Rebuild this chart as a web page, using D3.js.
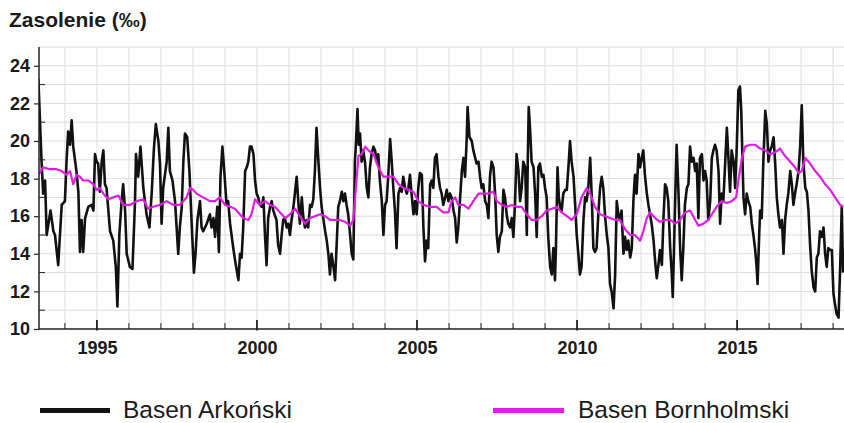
<!DOCTYPE html>
<html>
<head>
<meta charset="utf-8">
<script src="https://cdn.jsdelivr.net/npm/d3@7"></script>
<style>
  html, body { margin: 0; padding: 0; background: #fff; }
  svg { display: block; }
  text { font-family: "Liberation Sans", Arial, sans-serif; }
</style>
</head>
<body>
<svg id="chart" width="844" height="423"></svg>
<script>
// ---------- data ----------
const titleText = "Zasolenie (‰)";
const seriesNames = ["Basen Arkoński", "Basen Bornholmski"];
const yTicks = [10, 12, 14, 16, 18, 20, 22, 24];
const xTickYears = [1995, 2000, 2005, 2010, 2015];

const arkonaYears = [
1993.17,1993.27,1993.32,1993.38,1993.43,1993.55,1993.64,1993.69,1993.79,1993.90,
1994.00,1994.05,1994.10,1994.16,1994.21,1994.26,1994.36,1994.42,1994.47,1994.52,
1994.57,1994.63,1994.73,1994.83,1994.89,1994.94,1994.99,1995.04,1995.09,1995.15,
1995.20,1995.25,1995.30,1995.41,1995.51,1995.59,1995.64,1995.70,1995.77,1995.82,
1995.88,1995.93,1996.03,1996.11,1996.19,1996.22,1996.29,1996.36,1996.45,1996.55,
1996.64,1996.71,1996.78,1996.84,1996.92,1996.97,1997.02,1997.07,1997.18,1997.23,
1997.28,1997.36,1997.44,1997.54,1997.59,1997.65,1997.70,1997.75,1997.82,1997.89,
1997.96,1998.03,1998.08,1998.14,1998.22,1998.27,1998.32,1998.43,1998.53,1998.58,
1998.64,1998.69,1998.76,1998.81,1998.86,1998.92,1998.97,1999.05,1999.10,1999.16,
1999.26,1999.32,1999.42,1999.47,1999.52,1999.57,1999.63,1999.68,1999.73,1999.78,
1999.83,1999.89,1999.94,1999.99,2000.04,2000.09,2000.15,2000.20,2000.25,2000.30,
2000.35,2000.41,2000.46,2000.51,2000.61,2000.66,2000.72,2000.77,2000.82,2000.87,
2000.93,2000.98,2001.03,2001.08,2001.14,2001.19,2001.24,2001.29,2001.34,2001.40,
2001.45,2001.50,2001.55,2001.60,2001.66,2001.71,2001.76,2001.81,2001.86,2001.92,
2001.97,2002.02,2002.07,2002.13,2002.18,2002.23,2002.28,2002.33,2002.39,2002.44,
2002.49,2002.54,2002.59,2002.65,2002.70,2002.75,2002.80,2002.85,2002.91,2002.96,
2003.01,2003.06,2003.09,2003.14,2003.18,2003.22,2003.27,2003.32,2003.38,2003.43,
2003.48,2003.53,2003.58,2003.64,2003.69,2003.74,2003.79,2003.84,2003.90,2003.95,
2004.00,2004.05,2004.10,2004.16,2004.21,2004.26,2004.31,2004.36,2004.42,2004.47,
2004.52,2004.57,2004.63,2004.68,2004.73,2004.78,2004.83,2004.89,2004.94,2004.99,
2005.04,2005.09,2005.15,2005.20,2005.25,2005.30,2005.35,2005.41,2005.46,2005.51,
2005.56,2005.61,2005.67,2005.72,2005.77,2005.82,2005.88,2005.93,2005.98,2006.03,
2006.08,2006.14,2006.19,2006.24,2006.29,2006.34,2006.40,2006.45,2006.50,2006.55,
2006.58,2006.64,2006.71,2006.76,2006.86,2006.92,2006.97,2007.02,2007.07,2007.13,
2007.18,2007.23,2007.28,2007.33,2007.39,2007.44,2007.49,2007.54,2007.59,2007.65,
2007.70,2007.75,2007.80,2007.85,2007.91,2007.96,2008.01,2008.06,2008.11,2008.17,
2008.22,2008.27,2008.32,2008.38,2008.43,2008.46,2008.49,2008.53,2008.58,2008.64,
2008.69,2008.74,2008.79,2008.84,2008.90,2008.95,2009.00,2009.05,2009.10,2009.16,
2009.21,2009.26,2009.31,2009.34,2009.39,2009.43,2009.47,2009.52,2009.57,2009.63,
2009.68,2009.73,2009.78,2009.83,2009.89,2009.94,2009.99,2010.04,2010.09,2010.14,
2010.20,2010.25,2010.30,2010.35,2010.41,2010.46,2010.51,2010.56,2010.61,2010.67,
2010.72,2010.77,2010.82,2010.88,2010.93,2010.98,2011.03,2011.08,2011.14,2011.19,
2011.24,2011.29,2011.34,2011.39,2011.45,2011.50,2011.55,2011.60,2011.66,2011.71,
2011.76,2011.81,2011.86,2011.92,2011.97,2012.02,2012.07,2012.12,2012.18,2012.23,
2012.28,2012.33,2012.39,2012.44,2012.49,2012.54,2012.59,2012.65,2012.70,2012.75,
2012.80,2012.85,2012.91,2012.96,2012.99,2013.03,2013.07,2013.11,2013.17,2013.22,
2013.27,2013.32,2013.37,2013.43,2013.48,2013.53,2013.58,2013.64,2013.69,2013.74,
2013.79,2013.84,2013.90,2013.95,2014.00,2014.05,2014.10,2014.16,2014.21,2014.26,
2014.31,2014.36,2014.42,2014.47,2014.52,2014.57,2014.63,2014.68,2014.73,2014.78,
2014.83,2014.89,2014.94,2014.99,2015.04,2015.09,2015.13,2015.17,2015.20,2015.25,
2015.30,2015.35,2015.41,2015.46,2015.51,2015.56,2015.61,2015.64,2015.69,2015.72,
2015.77,2015.82,2015.88,2015.93,2015.98,2016.03,2016.08,2016.14,2016.19,2016.24,
2016.29,2016.34,2016.40,2016.45,2016.50,2016.55,2016.60,2016.66,2016.71,2016.76,
2016.81,2016.86,2016.92,2016.97,2017.02,2017.07,2017.13,2017.18,2017.23,2017.28,
2017.33,2017.39,2017.44,2017.49,2017.54,2017.59,2017.65,2017.70,2017.75,2017.80,
2017.85,2017.91,2017.96,2018.01,2018.06,2018.11,2018.17,2018.22,2018.27,2018.31
];
const arkonaValues = [
23.3,18.9,17.2,17.9,15.0,16.3,15.2,15.0,13.4,16.6,
16.8,18.9,20.5,19.8,21.1,19.7,18.4,17.3,14.1,15.8,
14.1,15.9,16.5,16.6,16.3,19.3,18.9,18.8,17.3,18.9,
19.5,17.7,17.5,15.2,14.7,13.3,11.2,15.0,16.8,17.7,
16.3,14.0,13.3,13.2,16.8,19.3,18.1,19.7,17.5,16.1,
15.4,17.2,19.6,20.9,20.0,18.8,15.6,17.5,18.9,20.7,
18.4,17.9,16.8,14.0,15.4,16.5,18.9,20.4,20.2,18.4,
15.6,13.0,14.0,15.8,16.8,15.4,15.2,15.6,16.1,15.4,
15.9,14.9,16.5,14.1,18.1,19.7,18.6,16.6,16.8,15.6,
14.3,13.6,12.6,14.0,13.8,15.4,18.4,18.6,18.9,19.7,
19.7,19.3,17.9,17.2,17.0,16.6,16.5,17.0,15.0,13.4,
15.9,16.5,16.8,16.3,15.8,14.5,14.0,15.0,15.8,15.9,
15.4,15.6,15.0,15.8,16.5,17.3,18.1,16.8,15.6,17.0,
15.9,15.4,15.8,15.4,16.6,16.5,16.9,18.4,20.7,18.9,
17.5,16.5,15.9,15.2,14.7,14.0,12.9,14.0,13.3,12.6,
14.5,16.5,16.8,17.3,16.8,17.2,16.6,16.1,15.0,14.0,
13.7,18.9,19.8,21.7,19.8,20.4,18.9,19.5,18.8,17.5,
17.0,18.6,19.3,19.7,19.5,18.9,19.3,17.9,16.8,15.0,
16.6,16.8,18.1,20.1,18.9,17.5,16.3,14.3,17.2,17.5,
17.3,18.1,17.5,17.2,17.5,18.2,17.2,16.1,16.8,16.1,
17.5,18.3,18.2,15.4,13.6,14.7,14.3,17.7,17.9,17.5,
19.1,19.3,18.1,17.5,17.2,16.6,17.0,17.4,16.8,17.2,
17.0,16.3,15.9,14.6,15.4,16.8,18.4,19.1,18.1,20.0,
21.8,20.2,20.0,19.5,18.8,18.9,18.1,17.5,17.7,16.8,
16.6,15.9,18.1,18.9,18.6,17.2,15.0,14.1,14.9,15.2,
17.4,17.0,16.1,15.6,15.4,15.9,14.9,16.6,19.3,18.4,
16.8,17.5,18.9,18.6,15.0,18.9,21.8,20.7,18.9,18.6,
17.2,14.9,18.6,18.8,18.1,18.2,17.5,17.0,14.9,13.3,
12.9,14.3,12.6,14.3,18.6,17.0,16.5,16.3,17.2,17.4,
17.4,18.6,20.0,18.9,18.1,16.6,15.0,14.0,12.9,13.3,
15.8,17.0,16.8,17.5,19.1,17.0,14.3,14.1,14.3,16.3,
17.5,18.1,17.5,15.9,15.0,14.3,12.4,12.0,11.1,12.9,
16.8,16.1,15.8,16.3,14.0,14.9,14.2,14.7,13.8,14.3,
16.8,18.2,17.2,19.3,18.6,19.1,19.5,18.2,17.2,16.6,
16.1,15.6,14.7,13.6,12.7,13.4,14.2,13.4,15.9,17.7,
17.5,16.8,14.3,12.9,11.7,14.3,17.2,19.8,17.2,14.3,
12.6,14.3,16.6,17.5,17.7,19.7,18.9,19.1,18.4,18.8,
15.9,19.1,19.3,17.9,18.4,17.9,15.8,16.8,19.1,19.5,
19.8,19.5,18.4,15.6,17.2,16.8,18.9,20.7,19.1,17.3,
19.5,18.9,17.5,19.7,22.7,22.9,21.6,18.9,17.0,16.1,
17.2,16.8,16.5,15.6,15.0,14.3,13.3,12.4,15.0,16.3,
15.9,18.9,21.6,20.9,18.9,19.5,19.7,20.2,18.8,17.0,
16.1,15.4,15.8,14.0,15.8,16.6,17.2,18.4,17.7,16.6,
17.2,17.7,18.4,19.7,21.9,18.9,17.5,17.3,16.3,14.5,
13.1,12.2,12.0,13.8,14.0,15.2,14.9,15.4,14.0,13.3,
14.3,14.2,14.2,11.9,11.3,10.8,10.6,13.3,16.5,13.0
];

const bornholmYears = [
1993.17,1993.32,1993.53,1993.74,1993.90,1994.05,1994.16,1994.26,1994.36,1994.47,
1994.57,1994.73,1994.89,1994.99,1995.09,1995.20,1995.35,1995.51,1995.67,1995.82,
1996.03,1996.24,1996.45,1996.60,1996.76,1996.97,1997.18,1997.39,1997.59,1997.80,
1997.91,1998.01,1998.11,1998.32,1998.53,1998.69,1998.84,1999.00,1999.16,1999.31,
1999.36,1999.57,1999.73,1999.83,1999.94,2000.09,2000.25,2000.41,2000.56,2000.72,
2000.88,2001.03,2001.19,2001.34,2001.50,2001.66,2001.81,2001.97,2002.13,2002.28,
2002.44,2002.59,2002.75,2002.91,2003.01,2003.09,2003.17,2003.27,2003.38,2003.48,
2003.64,2003.79,2003.95,2004.10,2004.26,2004.42,2004.57,2004.73,2004.89,2005.04,
2005.20,2005.41,2005.61,2005.82,2005.98,2006.08,2006.19,2006.29,2006.45,2006.61,
2006.76,2006.92,2007.07,2007.23,2007.39,2007.49,2007.65,2007.80,2007.96,2008.11,
2008.27,2008.43,2008.58,2008.74,2008.90,2009.05,2009.21,2009.37,2009.52,2009.68,
2009.83,2009.99,2010.14,2010.30,2010.41,2010.56,2010.72,2010.88,2011.03,2011.19,
2011.34,2011.50,2011.66,2011.81,2011.97,2012.07,2012.18,2012.28,2012.44,2012.59,
2012.75,2012.91,2013.07,2013.22,2013.37,2013.53,2013.69,2013.79,2013.95,2014.10,
2014.21,2014.36,2014.52,2014.68,2014.83,2014.97,2015.04,2015.15,2015.25,2015.41,
2015.56,2015.72,2015.88,2016.03,2016.19,2016.34,2016.50,2016.66,2016.81,2016.92,
2017.02,2017.13,2017.28,2017.44,2017.59,2017.75,2017.91,2018.06,2018.22,2018.32
];
const bornholmValues = [
18.2,18.6,18.5,18.5,18.4,18.2,18.4,17.7,18.2,18.1,
17.9,17.9,17.7,17.4,17.5,17.2,16.9,17.0,17.1,16.6,
16.6,16.8,16.9,16.4,16.5,16.6,16.8,16.6,16.6,17.0,
17.5,17.4,17.2,17.0,16.8,16.8,17.0,16.6,16.5,16.4,
16.3,15.9,15.8,16.1,16.9,16.6,16.8,16.6,16.5,16.2,
15.9,16.1,16.4,16.0,15.6,15.9,16.0,16.1,16.0,15.8,
15.8,15.8,15.7,15.5,15.8,17.5,19.2,19.3,19.7,19.5,
19.3,18.6,18.1,18.1,18.1,17.7,17.5,17.4,17.3,16.8,
16.6,16.5,16.5,16.2,16.2,16.8,17.0,16.6,16.6,16.4,
16.8,17.2,17.2,17.2,17.3,16.8,16.6,16.5,16.6,16.5,
16.5,16.1,15.8,15.8,16.0,16.3,16.4,16.5,16.2,16.0,
15.8,16.1,17.0,17.5,17.2,16.5,16.1,16.0,15.9,15.8,
15.8,15.3,15.0,15.0,14.7,15.2,15.9,16.2,15.9,15.7,
15.8,15.8,15.6,15.8,16.2,16.3,15.8,15.5,15.6,15.8,
16.1,16.5,16.8,16.7,16.8,17.0,17.9,19.1,19.7,19.8,
19.8,19.6,19.5,19.3,19.4,19.6,19.2,18.9,18.6,18.3,
18.4,19.1,18.8,18.4,18.1,17.7,17.4,17.0,16.6,16.5
];

// ---------- layout ----------
const svg = d3.select("#chart");
const W = 844, H = 423;
const plot = { left: 39, right: 844, top: 47, bottom: 329 };

const x = d3.scaleLinear().domain([1993.19, 2018.34]).range([plot.left, plot.right]);
const y = d3.scaleLinear().domain([10, 25]).range([plot.bottom, plot.top]);

// grid
const grid = svg.append("g").attr("stroke", "#dcdcdc").attr("stroke-width", 1);
grid.selectAll("line.gy").data(d3.range(11, 26)).join("line")
  .attr("x1", plot.left).attr("x2", plot.right)
  .attr("y1", d => y(d)).attr("y2", d => y(d));
grid.selectAll("line.gx").data(d3.range(1994, 2019)).join("line")
  .attr("y1", plot.top).attr("y2", plot.bottom)
  .attr("x1", d => x(d)).attr("x2", d => x(d));

// clip
svg.append("clipPath").attr("id", "clip").append("rect")
  .attr("x", plot.left).attr("y", plot.top)
  .attr("width", plot.right - plot.left).attr("height", plot.bottom - plot.top);

const line = d3.line().x(d => x(d[0])).y(d => y(d[1]));
const arkona = arkonaYears.map((t, i) => [t, arkonaValues[i]]);
const bornholm = bornholmYears.map((t, i) => [t, bornholmValues[i]]);

const lines = svg.append("g").attr("clip-path", "url(#clip)");
lines.append("path").datum(arkona).attr("d", line)
  .attr("fill", "none").attr("stroke", "#111").attr("stroke-width", 2.6)
  .attr("stroke-linejoin", "round");
lines.append("path").datum(bornholm).attr("d", line)
  .attr("fill", "none").attr("stroke", "#e01ee0").attr("stroke-width", 2.2)
  .attr("stroke-linejoin", "round");

// axes
const axisColor = "#222";
const yAxisG = svg.append("g").attr("transform", `translate(${plot.left},0)`);
const yAxis = d3.axisLeft(y).tickValues(yTicks).tickSize(5).tickPadding(4).tickFormat(d3.format("d"));
yAxisG.call(yAxis);
yAxisG.select(".domain").remove();
yAxisG.selectAll(".tick line").attr("stroke", axisColor).attr("stroke-width", 1.2);
yAxisG.selectAll(".tick text")
  .attr("font-family", "Liberation Sans, Arial, sans-serif")
  .attr("font-size", 18).attr("font-weight", "bold").attr("fill", "#1a1a1a");
// minor inner ticks on y axis (odd values)
yAxisG.selectAll("line.minor").data(d3.range(11, 25, 2)).join("line")
  .attr("x1", 0).attr("x2", 6).attr("y1", d => y(d)).attr("y2", d => y(d))
  .attr("stroke", axisColor).attr("stroke-width", 1);

const xAxisG = svg.append("g").attr("transform", `translate(0,${plot.bottom})`);
const xAxis = d3.axisBottom(x).tickValues(xTickYears).tickSize(0).tickPadding(12).tickFormat(d3.format("d"));
xAxisG.call(xAxis);
xAxisG.select(".domain").remove();
xAxisG.selectAll(".tick text")
  .attr("font-family", "Liberation Sans, Arial, sans-serif")
  .attr("font-size", 18).attr("font-weight", "bold").attr("fill", "#1a1a1a");
// year ticks pointing up
xAxisG.selectAll("line.yr").data(d3.range(1994, 2019)).join("line")
  .attr("x1", d => x(d)).attr("x2", d => x(d))
  .attr("y1", d => xTickYears.includes(d) ? 1.5 : 0)
  .attr("y2", d => xTickYears.includes(d) ? -9 : -6)
  .attr("stroke", axisColor).attr("stroke-width", d => xTickYears.includes(d) ? 1.8 : 1);

// axis lines
svg.append("line").attr("x1", plot.left).attr("x2", plot.left)
  .attr("y1", plot.top).attr("y2", plot.bottom + 0.5)
  .attr("stroke", axisColor).attr("stroke-width", 1.5);
svg.append("line").attr("x1", plot.left).attr("x2", plot.right)
  .attr("y1", plot.bottom).attr("y2", plot.bottom)
  .attr("stroke", axisColor).attr("stroke-width", 1.5);

// title
svg.append("text").attr("x", 9).attr("y", 27)
  .attr("font-size", 21).attr("font-weight", "bold").attr("fill", "#1a1a1a")
  .text(titleText);

// legend
const legendItems = [
  { name: seriesNames[0], color: "#111", x1: 40, x2: 110, tx: 123 },
  { name: seriesNames[1], color: "#e01ee0", x1: 493, x2: 564, tx: 578 }
];
const lg = svg.append("g");
legendItems.forEach(it => {
  lg.append("line").attr("x1", it.x1).attr("x2", it.x2).attr("y1", 410.5).attr("y2", 410.5)
    .attr("stroke", it.color).attr("stroke-width", 5);
  lg.append("text").attr("x", it.tx).attr("y", 418)
    .attr("font-size", 24.5).attr("fill", "#1a1a1a").text(it.name);
});
</script>
</body>
</html>
